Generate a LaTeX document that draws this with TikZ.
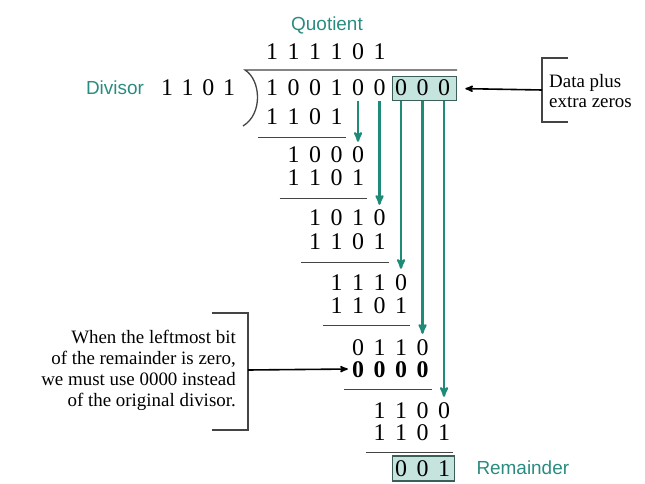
\documentclass[tikz,border=0pt]{standalone}
\usepackage{fontspec}
\setmainfont{Liberation Serif}
\newfontfamily\labelfont{Liberation Sans}
\usepackage{tikz}
\usetikzlibrary{arrows}
\usetikzlibrary{calc}

\definecolor{tealtext}{HTML}{2A8C80}
\definecolor{tealline}{HTML}{1F8A78}
\definecolor{boxfill}{HTML}{C4E4DD}
\definecolor{boxline}{HTML}{3B5E59}
\definecolor{rulegray}{HTML}{444444}

\begin{document}
\begin{tikzpicture}[x=1bp,y=-1bp,>=stealth',
  bit/.style={inner sep=0pt,font=\fontsize{24}{24}\selectfont,text height=16bp,text depth=0pt},
  boldbit/.style={bit,font=\fontsize{24}{24}\selectfont\bfseries},
  label/.style={text=tealtext,font=\labelfont\fontsize{19}{22}\selectfont},
  note/.style={inner sep=0pt,font=\fontsize{19}{21}\selectfont},
  zerobox/.style={draw=boxline,fill=boxfill,line width=1.5bp,inner sep=0pt},
  rule/.style={draw=rulegray,line width=1.3bp},
  bringdown/.style={->,draw=tealline,fill=tealline,line width=2.2bp,shorten >=5bp},
  pointer/.style={->,draw=black,line width=1.6bp}]

    \useasboundingbox (0,0) rectangle (645,484);

    % labels
    \node[label] (quotient) at (327,25) {Quotient};
    \node[label] (divisor) at (115,88) {Divisor};

    % shaded boxes behind the padding zeros and the remainder
    \node[zerobox,minimum width=64bp,minimum height=24bp] (extra) at (424.5,88.5) {};
    \node[zerobox,minimum width=62bp,minimum height=25bp] (rem) at (423.5,468.5) {};

    % quotient, divisor and dividend
    \foreach \b [count=\i from 0] in {1,1,1,1,0,1}
        \node[bit] (q\i) at ({272+21.5*\i},52) {\b};
    \foreach \b [count=\i from 0] in {1,1,0,1}
        \node[bit] (v\i) at ({167+20.7*\i},88) {\b};
    \foreach \b [count=\i from 0] in {1,0,0,1,0,0,0,0,0}
        \node[bit] (d\i) at ({272+21.5*\i},88) {\b};

    % partial remainders (row/y/first column/bits/style)
    \foreach \k/\y/\s/\bits/\wt in {1/117/0/{1,1,0,1}/bit, 2/155/1/{1,0,0,0}/bit,
            3/178/1/{1,1,0,1}/bit, 4/218/2/{1,0,1,0}/bit, 5/242/2/{1,1,0,1}/bit,
            6/282/3/{1,1,1,0}/bit, 7/305/3/{1,1,0,1}/bit, 8/347/4/{0,1,1,0}/bit,
            9/369/4/{0,0,0,0}/boldbit, 10/410/5/{1,1,0,0}/bit, 11/432/5/{1,1,0,1}/bit,
            12/468/6/{0,0,1}/bit}
        \foreach \b [count=\j from 0] in \bits {
            \pgfmathtruncatemacro\i{\s+\j}
            \node[\wt] (r\k-\i) at ({272+21.5*\i},\y) {\b};
        }

    % division bracket
    \draw[rule] (457,70) -- (245,70) .. controls (261,80) and (263,114) .. (243,126);

    % subtraction lines
    \foreach \k/\s in {1/0,3/1,5/2,7/3,9/4,11/5} {
        \pgfmathtruncatemacro\t{\s+3}
        \draw[rule] ($(r\k-\s.south)+(-14,12)$) -- ($(r\k-\t.south)+(9,12)$);
    }

    % bits brought down
    \foreach \c/\k in {4/2,5/4,6/6,7/8,8/10}
        \draw[bringdown] (d\c |- extra.south) -- (r\k-\c.north);

    \node[label,anchor=west] (remainder) at (473,468) {Remainder};

    % side notes
    \node[note,anchor=west,align=left] (datanote) at (549,91) {Data plus\\extra zeros};
    \coordinate (databrk) at (542,90);
    \draw[rule] (568,58) -| (542,122) -- (568,122);
    \draw[pointer,shorten >=8bp] (databrk) -- (extra.east);

    \node[note,anchor=east,align=right] (zeronote) at (236,370)
        {When the leftmost bit\\of the remainder is zero,\\we must use 0000 instead\\of the original divisor.};
    \coordinate (zerobrk) at (248,370);
    \draw[rule] (212,313) -| (248,430) -- (212,430);
    \draw[pointer,shorten >=4bp] (zerobrk) -- (r9-4.west);

\end{tikzpicture}
\end{document}
